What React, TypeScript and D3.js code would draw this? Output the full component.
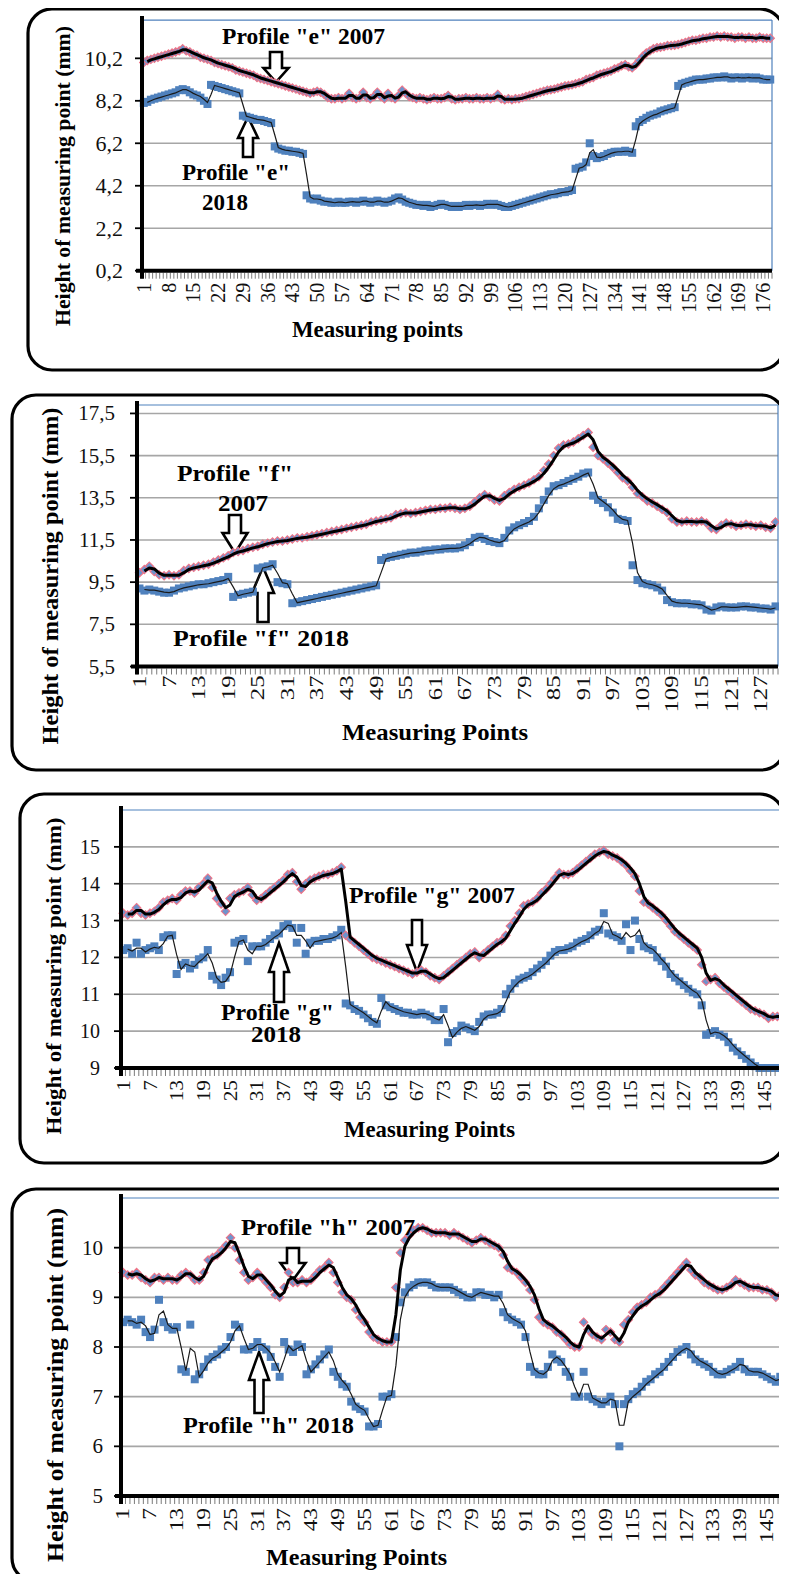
import React from "react";
import * as d3 from "d3";

// ---------------- Profile "e" ----------------
const eValues2007 = [
  10.0, 10.1, 10.15, 10.2, 10.25, 10.3, 10.35, 10.4, 10.45, 10.5, 10.55, 10.65,
  10.55, 10.5, 10.4, 10.35, 10.25, 10.2, 10.15, 10.1, 10.0, 9.95, 9.9, 9.85, 9.8, 9.75, 9.65, 9.6, 9.55, 9.5, 9.45, 9.4, 9.3, 9.25, 9.2, 9.15, 9.1, 9.05, 9.0,
  8.95, 8.9, 8.85, 8.8, 8.75, 8.7, 8.65, 8.6, 8.55, 8.6, 8.65, 8.6, 8.5, 8.35, 8.3,
  8.3, 8.35, 8.3, 8.35, 8.55, 8.35, 8.3, 8.35, 8.6, 8.35,
  8.3, 8.4, 8.6, 8.4, 8.3, 8.55, 8.35, 8.3, 8.45, 8.7,
  8.55, 8.4, 8.35, 8.3, 8.35, 8.3, 8.25, 8.3, 8.35, 8.3,
  8.3, 8.35, 8.45, 8.3, 8.25, 8.3, 8.3, 8.35, 8.3, 8.3,
  8.35, 8.3, 8.3, 8.35, 8.3, 8.35, 8.5, 8.3, 8.25, 8.3,
  8.25, 8.3, 8.3, 8.35,
  8.4, 8.45, 8.5, 8.55, 8.6, 8.65, 8.7, 8.72, 8.75, 8.8, 8.85, 8.9, 8.92, 8.95, 9.0, 9.05,
  9.1, 9.2, 9.25, 9.3, 9.4, 9.45, 9.5, 9.55, 9.6, 9.7, 9.75, 9.85, 9.9,
  9.8, 9.75, 9.9, 10.1, 10.3, 10.45, 10.55, 10.65, 10.7, 10.72,
  10.75, 10.8, 10.8, 10.82, 10.85, 10.9, 10.95, 11.0, 11.05, 11.05,
  11.1, 11.15, 11.15, 11.2, 11.2, 11.25, 11.2, 11.25, 11.2, 11.2,
  11.15, 11.2, 11.2, 11.15, 11.2, 11.15, 11.15, 11.2, 11.15, 11.15, 11.15,
];
const eValues2018 = [
  8.1, 8.15, 8.25, 8.3, 8.35, 8.4, 8.45, 8.5, 8.55, 8.6, 8.7, 8.75,
  8.7, 8.6, 8.5, 8.45, 8.35, 8.2, 8.05,
  8.95, 8.9, 8.85, 8.8, 8.75, 8.7, 8.65, 8.6, 8.55,
  7.5, 7.45, 7.4, 7.35, 7.3, 7.3, 7.25, 7.2, 7.15,
  6.05, 5.95, 5.9, 5.85, 5.85, 5.8, 5.8, 5.75, 5.7,
  3.75, 3.6, 3.55, 3.6, 3.5, 3.45, 3.45, 3.4, 3.4, 3.45,
  3.4, 3.4, 3.45, 3.45, 3.4, 3.45, 3.5, 3.45, 3.4, 3.45,
  3.5, 3.45, 3.4, 3.45, 3.5, 3.6, 3.65, 3.55, 3.45, 3.4,
  3.35, 3.3, 3.3, 3.25, 3.3, 3.2, 3.25, 3.3, 3.35, 3.3,
  3.25, 3.2, 3.25, 3.2, 3.25, 3.3, 3.25, 3.3, 3.3, 3.25,
  3.3, 3.35, 3.3, 3.35, 3.3, 3.25, 3.2, 3.2, 3.25, 3.3,
  3.35, 3.4, 3.45, 3.5, 3.55, 3.6, 3.65, 3.7, 3.75, 3.8,
  3.8, 3.85, 3.9, 3.9, 3.95, 4.0,
  5.0, 5.05, 5.1, 5.3, 6.2, 5.6, 5.5, 5.55, 5.6, 5.7, 5.75, 5.8, 5.8, 5.8, 5.85, 5.8, 5.75,
  7.0, 7.2, 7.3, 7.4, 7.5, 7.55, 7.6, 7.7, 7.75, 7.8, 7.85, 7.9,
  8.9, 9.0, 9.05, 9.1, 9.15, 9.2, 9.2, 9.2, 9.25, 9.25,
  9.3, 9.3, 9.3, 9.35, 9.3, 9.25, 9.3, 9.3, 9.25, 9.3,
  9.3, 9.25, 9.3, 9.25, 9.2, 9.2, 9.2,
];
const eYTicks = [0.2, 2.2, 4.2, 6.2, 8.2, 10.2];
const eYLabels = ["0,2", "2,2", "4,2", "6,2", "8,2", "10,2"];
const eXLabels = [1, 8, 15, 22, 29, 36, 43, 50, 57, 64, 71, 78, 85, 92, 99, 106, 113, 120, 127, 134, 141, 148, 155, 162, 169, 176];

// ---------------- Profile "f" ----------------
const fValues2007 = [
  9.95, 10.1, 10.25, 10.0, 9.85, 9.8, 9.85, 9.8, 9.85, 10.05,
  10.15, 10.2, 10.25, 10.3, 10.35, 10.45, 10.55, 10.65, 10.75, 10.9,
  10.95, 11.0, 11.1, 11.15, 11.2, 11.3, 11.35, 11.4, 11.45, 11.45,
  11.5, 11.55, 11.6, 11.6, 11.65, 11.7, 11.75, 11.8, 11.85, 11.9,
  11.95, 12.0, 12.05, 12.1, 12.15, 12.2, 12.25, 12.35, 12.4, 12.45,
  12.5, 12.55, 12.7, 12.75, 12.8, 12.75, 12.8, 12.85, 12.9, 12.95,
  12.95, 13.0, 13.0, 13.05, 13.0, 12.95, 13.0, 13.1, 13.3, 13.5,
  13.65, 13.55, 13.4, 13.35, 13.6, 13.75, 13.9, 14.0, 14.1, 14.2,
  14.35, 14.5, 14.8, 15.1, 15.5, 15.85, 16.0, 16.05, 16.15, 16.3,
  16.45, 16.6, 15.9, 15.5, 15.35, 15.15, 14.95, 14.7, 14.45, 14.3,
  14.0, 13.7, 13.55, 13.35, 13.25, 13.1, 12.95, 12.8, 12.5, 12.35,
  12.35, 12.4, 12.35, 12.35, 12.4, 12.3, 12.05, 12.0, 12.2, 12.3,
  12.25, 12.15, 12.2, 12.25, 12.2, 12.15, 12.2, 12.1, 12.05, 12.35,
];
const fValues2018 = [
  9.2, 9.1, 9.15, 9.1, 9.05, 9.0, 9.0, 9.1, 9.2, 9.25,
  9.3, 9.35, 9.4, 9.4, 9.45, 9.5, 9.55, 9.6, 9.75, 8.8,
  8.9, 8.95, 9.0, 9.05, 10.15, 10.2, 10.25, 10.35, 9.5, 9.45,
  9.4, 8.5, 8.55, 8.6, 8.65, 8.7, 8.75, 8.8, 8.85, 8.9,
  8.95, 9.0, 9.05, 9.1, 9.15, 9.2, 9.25, 9.3, 9.35, 10.55,
  10.65, 10.7, 10.75, 10.8, 10.85, 10.9, 10.9, 10.95, 11.0, 11.0,
  11.05, 11.05, 11.1, 11.1, 11.1, 11.15, 11.25, 11.4, 11.6, 11.65,
  11.55, 11.45, 11.4, 11.35, 11.6, 11.95, 12.1, 12.2, 12.3, 12.4,
  12.6, 13.0, 13.4, 13.8, 14.05, 14.1, 14.2, 14.3, 14.4, 14.5,
  14.65, 14.7, 13.6, 13.4, 13.25, 13.05, 12.8, 12.5, 12.45, 12.4,
  10.3, 9.6, 9.45, 9.4, 9.35, 9.25, 9.1, 8.65, 8.55, 8.5,
  8.5, 8.5, 8.45, 8.45, 8.4, 8.2, 8.15, 8.3, 8.35, 8.3,
  8.3, 8.3, 8.35, 8.35, 8.3, 8.3, 8.25, 8.25, 8.2, 8.35,
];
const fYTicks = [5.5, 7.5, 9.5, 11.5, 13.5, 15.5, 17.5];
const fYLabels = ["5,5", "7,5", "9,5", "11,5", "13,5", "15,5", "17,5"];
const fXLabels = [1, 7, 13, 19, 25, 31, 37, 43, 49, 55, 61, 67, 73, 79, 85, 91, 97, 103, 109, 115, 121, 127];

// ---------------- Profile "g" ----------------
const gValues2007 = [
  13.2, 13.15, 13.2, 13.35, 13.2, 13.15, 13.2, 13.25, 13.35, 13.5,
  13.55, 13.6, 13.55, 13.7, 13.8, 13.8, 13.75, 13.9, 14.0, 14.15,
  13.9, 13.6, 13.45, 13.25, 13.6, 13.7, 13.75, 13.8, 13.9, 13.7,
  13.55, 13.6, 13.7, 13.8, 13.9, 14.0, 14.1, 14.25, 14.3, 14.05,
  13.85, 14.0, 14.1, 14.15, 14.2, 14.25, 14.25, 14.3, 14.35, 14.45,
  12.6, 12.5, 12.4, 12.3, 12.2, 12.1, 12.0, 11.95, 11.9, 11.85,
  11.8, 11.75, 11.7, 11.65, 11.6, 11.55, 11.6, 11.65, 11.6, 11.5,
  11.45, 11.4, 11.5, 11.6, 11.7, 11.8, 11.9, 12.0, 12.1, 12.15,
  12.0, 12.1, 12.2, 12.3, 12.4, 12.45, 12.6, 12.85, 13.0, 13.2,
  13.4, 13.45, 13.5, 13.6, 13.75, 13.85, 14.0, 14.15, 14.3, 14.25,
  14.25, 14.3, 14.4, 14.5, 14.6, 14.7, 14.8, 14.85, 14.9, 14.8,
  14.75, 14.7, 14.6, 14.5, 14.35, 14.2, 13.8, 13.5, 13.45, 13.35,
  13.25, 13.15, 13.0, 12.85, 12.7, 12.6, 12.5, 12.4, 12.3, 12.2,
  11.8, 11.35, 11.4, 11.45, 11.3, 11.2, 11.1, 11.0, 10.9, 10.8,
  10.7, 10.6, 10.55, 10.5, 10.45, 10.35, 10.4, 10.4, 10.4,
];
const gValues2018 = [
  12.2, 12.25, 12.1, 12.4, 12.1, 12.2, 12.25, 12.3, 12.2, 12.55,
  12.6, 12.6, 11.55, 11.8, 11.85, 11.7, 11.8, 11.95, 12.0, 12.2,
  11.5, 11.4, 11.25, 11.45, 11.6, 12.4, 12.45, 12.5, 11.9, 12.3,
  12.3, 12.3, 12.4, 12.5, 12.6, 12.65, 12.85, 12.9, 12.8, 12.4,
  12.8, 12.1, 12.4, 12.45, 12.45, 12.5, 12.5, 12.55, 12.6, 12.75,
  10.75, 10.7, 10.6, 10.55, 10.45, 10.35, 10.25, 10.2, 10.9, 10.7,
  10.65, 10.6, 10.55, 10.5, 10.5, 10.45, 10.45, 10.5, 10.45, 10.4,
  10.3, 10.3, 10.6, 9.7, 9.95, 10.0, 10.15, 10.1, 10.05, 10.0,
  10.25, 10.4, 10.45, 10.45, 10.5, 10.6, 11.0, 11.15, 11.3, 11.4,
  11.45, 11.5, 11.6, 11.7, 11.8, 11.9, 12.05, 12.15, 12.2, 12.2,
  12.25, 12.3, 12.4, 12.45, 12.5, 12.6, 12.7, 12.75, 13.2, 12.65,
  12.6, 12.55, 12.45, 12.9, 12.2, 13.0, 12.5, 12.3, 12.25, 12.2,
  12.0, 11.9, 11.75, 11.55, 11.45, 11.35, 11.25, 11.15, 11.05, 11.0,
  10.7, 9.9, 9.95, 10.0, 9.9, 9.85, 9.7, 9.55, 9.45, 9.35,
  9.25, 9.15, 9.05, 9.0, 9.0, 9.0, 9.0, 9.0, 9.0,
];
const gYTicks = [9, 10, 11, 12, 13, 14, 15];
const gYLabels = ["9", "10", "11", "12", "13", "14", "15"];
const gXLabels = [1, 7, 13, 19, 25, 31, 37, 43, 49, 55, 61, 67, 73, 79, 85, 91, 97, 103, 109, 115, 121, 127, 133, 139, 145];

// ---------------- Profile "h" ----------------
const hValues2007 = [
  9.5, 9.45, 9.45, 9.5, 9.4, 9.35, 9.3, 9.4, 9.4, 9.35,
  9.4, 9.35, 9.35, 9.45, 9.5, 9.45, 9.35, 9.35, 9.5, 9.75,
  9.8, 9.85, 9.95, 10.05, 10.2, 10.0, 9.75, 9.5, 9.35, 9.4,
  9.5, 9.4, 9.3, 9.2, 9.05, 9.0, 9.2, 9.5, 9.3, 9.3,
  9.35, 9.3, 9.35, 9.45, 9.55, 9.6, 9.7, 9.5, 9.3, 9.1,
  9.0, 8.95, 8.75, 8.6, 8.5, 8.3, 8.2, 8.15, 8.1, 8.1,
  8.1, 9.2, 9.9, 10.15, 10.25, 10.35, 10.4, 10.4, 10.35, 10.3,
  10.3, 10.3, 10.3, 10.25, 10.3, 10.25, 10.2, 10.15, 10.1, 10.15,
  10.2, 10.15, 10.1, 10.05, 10.0, 9.85, 9.6, 9.55, 9.5, 9.4,
  9.3, 9.15, 8.95, 8.6, 8.5, 8.45, 8.4, 8.3, 8.25, 8.15,
  8.05, 8.0, 8.0, 8.5, 8.35, 8.25, 8.2, 8.15, 8.35, 8.3,
  8.15, 8.1, 8.45, 8.55, 8.7, 8.8, 8.85, 8.9, 9.0, 9.05,
  9.1, 9.2, 9.3, 9.4, 9.5, 9.6, 9.7, 9.55, 9.45, 9.4,
  9.3, 9.25, 9.2, 9.15, 9.15, 9.2, 9.25, 9.35, 9.3, 9.25,
  9.2, 9.2, 9.2, 9.15, 9.15, 9.1, 9.0, 9.05, 9.2, 9.25,
  9.2, 9.2,
];
const hValues2018 = [
  8.5, 8.55, 8.5, 8.45, 8.55, 8.3, 8.2, 8.35, 8.95, 8.5,
  8.4, 8.35, 8.4, 7.55, 7.5, 8.45, 7.35, 7.45, 7.6, 7.75,
  7.8, 7.85, 7.95, 8.0, 8.2, 8.45, 8.4, 7.95, 7.95, 8.0,
  8.1, 8.0, 7.95, 7.8, 7.6, 7.4, 8.1, 7.95, 7.9, 8.05,
  8.0, 7.45, 7.55, 7.65, 7.75, 7.85, 7.95, 7.5, 7.4, 7.25,
  7.2, 6.9, 6.8, 6.75, 6.7, 6.4, 6.4, 6.45, 7.0, 7.0,
  7.05, 8.2, 8.9, 9.1, 9.2, 9.25, 9.3, 9.3, 9.3, 9.25,
  9.2, 9.2, 9.2, 9.2, 9.15, 9.1, 9.05, 9.0, 9.0, 9.1,
  9.1, 9.05, 9.05, 9.0, 9.05, 8.7, 8.6, 8.55, 8.5, 8.45,
  8.2, 7.6, 7.5, 7.45, 7.45, 7.6, 7.85, 7.75, 7.7, 7.5,
  7.4, 7.0, 7.0, 7.5, 7.0, 6.95, 6.9, 6.85, 6.9, 7.0,
  6.85, 6.0, 6.85, 6.95, 7.05, 7.1, 7.2, 7.3, 7.35, 7.45,
  7.5, 7.6, 7.7, 7.8, 7.9, 7.95, 8.0, 7.85, 7.75, 7.7,
  7.65, 7.6, 7.5, 7.45, 7.45, 7.5, 7.55, 7.6, 7.7, 7.55,
  7.5, 7.5, 7.5, 7.45, 7.4, 7.35, 7.3, 7.4, 7.5, 7.5,
  7.5, 7.5,
];
const hYTicks = [5, 6, 7, 8, 9, 10];
const hYLabels = ["5", "6", "7", "8", "9", "10"];
const hXLabels = [1, 7, 13, 19, 25, 31, 37, 43, 49, 55, 61, 67, 73, 79, 85, 91, 97, 103, 109, 115, 121, 127, 133, 139, 145];

// ---------------- rendering ----------------
const SERIF = "'Liberation Serif','Times New Roman',Times,serif";
const BLUE = "#4F81BD";
const Y_TITLE = "Height of measuring point (mm)";

type Txt = { text: string; x: number; y: number; len: number; size: number };
type Arr = { x: number; tail: number; tip: number; hl: number; hw: number; sw: number };
type Cfg = {
  s2007: number[];
  s2018: number[];
  yTicks: number[];
  yLabels: string[];
  xLabels: number[];
  box: [number, number, number, number];
  left: number;
  right: number;
  top: number;
  bottom: number;
  yDomain: [number, number];
  yFont: number;
  yGap: number;
  xFont: number;
  xStretch: number;
  xOffset: number;
  xTitle: Txt;
  yTitle: { x: number; cy: number; len: number; size: number };
  notes: Txt[];
  arrows: Arr[];
};

const panels: Cfg[] = [
  {
    s2007: eValues2007, s2018: eValues2018, yTicks: eYTicks, yLabels: eYLabels, xLabels: eXLabels,
    box: [28, 9, 756, 361], left: 142, right: 772, top: 20.1, bottom: 270.7, yDomain: [0.2, 12],
    yFont: 22, yGap: 19, xFont: 20, xStretch: 1.0, xOffset: 12,
    xTitle: { text: "Measuring points", x: 292, y: 337, len: 171, size: 23 },
    yTitle: { x: 62, cy: 176, len: 300, size: 22 },
    notes: [
      { text: 'Profile "e" 2007', x: 222, y: 44, len: 163, size: 23 },
      { text: 'Profile "e"', x: 182, y: 180, len: 108, size: 23 },
      { text: "2018", x: 202, y: 210, len: 46, size: 23 },
    ],
    arrows: [
      { x: 276, tail: 52, tip: 82, hl: 14, hw: 25, sw: 12 },
      { x: 248, tail: 157, tip: 117, hl: 21, hw: 20, sw: 10 },
    ],
  },
  {
    s2007: fValues2007, s2018: fValues2018, yTicks: fYTicks, yLabels: fYLabels, xLabels: fXLabels,
    box: [12, 395, 773, 375], left: 137, right: 778, top: 405, bottom: 666.5, yDomain: [5.5, 17.9],
    yFont: 21, yGap: 22, xFont: 19, xStretch: 1.3, xOffset: 9,
    xTitle: { text: "Measuring Points", x: 342, y: 740, len: 186, size: 24 },
    yTitle: { x: 50, cy: 576, len: 337, size: 23 },
    notes: [
      { text: 'Profile "f"', x: 177, y: 481, len: 116, size: 24 },
      { text: "2007", x: 218, y: 511, len: 50, size: 24 },
      { text: 'Profile "f" 2018', x: 173, y: 646, len: 176, size: 24 },
    ],
    arrows: [
      { x: 235, tail: 515, tip: 553, hl: 20, hw: 25, sw: 12 },
      { x: 263, tail: 622, tip: 567, hl: 26, hw: 22, sw: 11 },
    ],
  },
  {
    s2007: gValues2007, s2018: gValues2018, yTicks: gYTicks, yLabels: gYLabels, xLabels: gXLabels,
    box: [20, 794, 764, 369], left: 121, right: 784, top: 810, bottom: 1068, yDomain: [9, 16],
    yFont: 20, yGap: 21, xFont: 19, xStretch: 1.12, xOffset: 12,
    xTitle: { text: "Measuring Points", x: 344, y: 1137, len: 171, size: 23 },
    yTitle: { x: 53, cy: 976, len: 317, size: 22 },
    notes: [
      { text: 'Profile "g" 2007', x: 349, y: 903, len: 166, size: 23 },
      { text: 'Profile "g"', x: 221, y: 1020, len: 113, size: 23 },
      { text: "2018", x: 251, y: 1042, len: 50, size: 23 },
    ],
    arrows: [
      { x: 417, tail: 920, tip: 972, hl: 27, hw: 20, sw: 10 },
      { x: 279, tail: 1002, tip: 943, hl: 29, hw: 20, sw: 10 },
    ],
  },
  {
    s2007: hValues2007, s2018: hValues2018, yTicks: hYTicks, yLabels: hYLabels, xLabels: hXLabels,
    box: [12, 1189, 810, 393], left: 121, right: 800.4, top: 1198, bottom: 1496, yDomain: [5, 11],
    yFont: 21, yGap: 18, xFont: 19, xStretch: 1.23, xOffset: 12,
    xTitle: { text: "Measuring Points", x: 266, y: 1565, len: 181, size: 24 },
    yTitle: { x: 55, cy: 1385, len: 354, size: 23 },
    notes: [
      { text: 'Profile "h" 2007', x: 241, y: 1235, len: 174, size: 24 },
      { text: 'Profile "h" 2018', x: 183, y: 1433, len: 171, size: 24 },
    ],
    arrows: [
      { x: 293, tail: 1248, tip: 1280, hl: 17, hw: 25, sw: 12 },
      { x: 259, tail: 1413, tip: 1352, hl: 28, hw: 20, sw: 9 },
    ],
  },
];

function arrowPath(a: Arr) {
  const s = a.tip > a.tail ? 1 : -1;
  const h = a.tip - s * a.hl;
  return `M${a.x - a.sw / 2},${a.tail} L${a.x + a.sw / 2},${a.tail} L${a.x + a.sw / 2},${h} L${a.x + a.hw / 2},${h} L${a.x},${a.tip} L${a.x - a.hw / 2},${h} L${a.x - a.sw / 2},${h} Z`;
}

// two-period moving average trendline (as drawn by the spreadsheet)
function trend(vals: number[]): [number, number][] {
  return vals.slice(1).map((v, i) => [i + 2, (v + vals[i]) / 2] as [number, number]);
}

function Panel({ c }: { c: Cfg }) {
  const n = Math.max(c.s2007.length, c.s2018.length);
  const cats = d3.range(1, n + 1);
  const x = d3.scaleBand<number>().domain(cats).range([c.left, c.right]).padding(0);
  const bw = x.bandwidth();
  const cx = (k: number) => (x(k) as number) + bw / 2;
  const y = d3.scaleLinear().domain(c.yDomain).range([c.bottom, c.top]);
  const line = d3.line<[number, number]>().x((d) => cx(d[0])).y((d) => y(d[1]));
  const [bx, by, bwid, bh] = c.box;
  const boundaries = cats.map((k) => x(k) as number).concat([c.right]);
  const diamond = "M0,-4.2 L4.2,0 L0,4.2 L-4.2,0 Z";

  return (
    <g>
      <rect x={bx} y={by} width={bwid} height={bh} rx={24} ry={24} fill="#fff" stroke="#000" strokeWidth={3.2} />
      {c.yTicks.slice(1).map((t) => (
        <line key={"g" + t} x1={c.left} x2={c.right} y1={y(t)} y2={y(t)} stroke="#a6a6a6" strokeWidth={1.6} />
      ))}
      <line x1={c.left} x2={c.right} y1={c.top} y2={c.top} stroke={BLUE} strokeWidth={1.2} />
      <line x1={c.right} x2={c.right} y1={c.top} y2={c.bottom} stroke={BLUE} strokeWidth={1.2} />
      {c.arrows.map((a, i) => (
        <path key={"a" + i} d={arrowPath(a)} fill="#fff" stroke="#000" strokeWidth={2.6} strokeLinejoin="miter" />
      ))}
      {c.s2018.map((v, i) => (
        <rect key={"s" + i} x={cx(i + 1) - 4} y={y(v) - 4} width={8} height={8} fill={BLUE} />
      ))}
      <path d={line(trend(c.s2018)) || ""} fill="none" stroke="#1a1a1a" strokeWidth={1.2} />
      {c.s2007.map((v, i) => (
        <path key={"d" + i} d={diamond} transform={`translate(${cx(i + 1)},${y(v)})`} fill="#6f93cc" stroke="#ee7386" strokeWidth={1.1} />
      ))}
      <path d={line(trend(c.s2007)) || ""} fill="none" stroke="#000" strokeWidth={3} strokeLinejoin="round" />
      {c.yTicks.map((t) => (
        <line key={"t" + t} x1={c.left - 7} x2={c.left} y1={y(t)} y2={y(t)} stroke="#000" strokeWidth={1.8} />
      ))}
      {boundaries.map((b, i) => (
        <line key={"m" + i} x1={b} x2={b} y1={c.bottom + 2} y2={c.bottom + 8} stroke="#6b6b6b" strokeWidth={0.9} />
      ))}
      <line x1={c.left} x2={c.left} y1={c.top - 4} y2={c.bottom + 8} stroke="#000" strokeWidth={4} />
      <line x1={c.left - 6} x2={c.right} y1={c.bottom} y2={c.bottom} stroke="#000" strokeWidth={4} />
      {c.yTicks.map((t, i) => (
        <text key={"yl" + t} x={c.left - c.yGap} y={y(t)} textAnchor="end" dominantBaseline="central" fontFamily={SERIF} fontSize={c.yFont} fill="#111">
          {c.yLabels[i]}
        </text>
      ))}
      {c.xLabels.filter((l) => l <= n).map((l) => (
        <text key={"xl" + l} transform={`translate(${cx(l)},${c.bottom + c.xOffset}) rotate(-90) scale(${c.xStretch},1)`} textAnchor="end" dominantBaseline="central" fontFamily={SERIF} fontSize={c.xFont} fill="#111">
          {l}
        </text>
      ))}
      <text x={c.xTitle.x} y={c.xTitle.y} fontFamily={SERIF} fontWeight="bold" fontSize={c.xTitle.size} textLength={c.xTitle.len} lengthAdjust="spacingAndGlyphs" fill="#000">
        {c.xTitle.text}
      </text>
      <text transform={`translate(${c.yTitle.x},${c.yTitle.cy}) rotate(-90)`} textAnchor="middle" dominantBaseline="central" fontFamily={SERIF} fontWeight="bold" fontSize={c.yTitle.size} textLength={c.yTitle.len} lengthAdjust="spacingAndGlyphs" fill="#000">
        {Y_TITLE}
      </text>
      {c.notes.map((t, i) => (
        <text key={"n" + i} x={t.x} y={t.y} fontFamily={SERIF} fontWeight="bold" fontSize={t.size} textLength={t.len} lengthAdjust="spacingAndGlyphs" fill="#000">
          {t.text}
        </text>
      ))}
    </g>
  );
}

export default function App() {
  return (
    <div style={{ position: "relative", width: 787, height: 1574 }}>
      <svg width={787} height={1574} viewBox="0 0 787 1574" style={{ position: "absolute", left: -8, top: -8, background: "#fff", display: "block" }}>
        <rect x={0} y={0} width={787} height={1574} fill="#fff" />
        {panels.map((c, i) => (
          <Panel key={i} c={c} />
        ))}
      </svg>
    </div>
  );
}
